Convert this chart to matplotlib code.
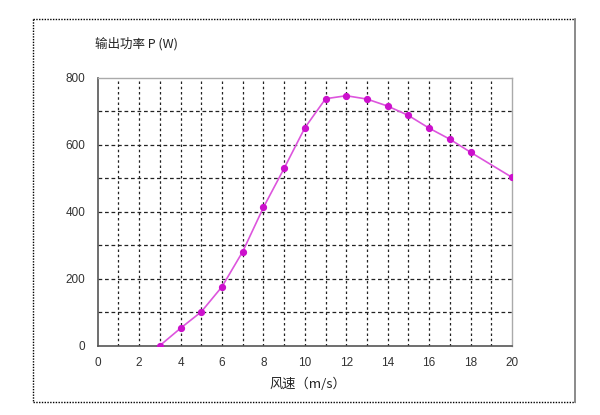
import matplotlib
matplotlib.use("Agg")
import matplotlib.pyplot as plt
from matplotlib.lines import Line2D

plt.rcParams['font.family'] = ['Noto Sans CJK SC', 'DejaVu Sans']

wind_speed = [3, 4, 5, 6, 7, 8, 9, 10, 11, 12, 13, 14, 15, 16, 17, 18, 20]
power = [0, 52, 101, 176, 281, 413, 530, 651, 738, 747, 737, 716, 688, 650, 617, 578, 503]
x_ticks = [0, 2, 4, 6, 8, 10, 12, 14, 16, 18, 20]
y_ticks = [0, 200, 400, 600, 800]
y_label = "输出功率 P (W)"
x_label = "风速（m/s）"

fig = plt.figure(figsize=(6, 4.15), dpi=100)
W, H = 600, 415

def fx(px):
    return px / W

def fy(py):
    return 1 - py / H

# outer frame
fig.add_artist(Line2D([fx(33), fx(33)], [fy(19), fy(402)], color='black', lw=1.0, ls=(0, (1, 1))))
fig.add_artist(Line2D([fx(33), fx(575)], [fy(19), fy(19)], color='black', lw=1.0, ls=(0, (1, 1))))
fig.add_artist(Line2D([fx(33), fx(575)], [fy(402), fy(402)], color='black', lw=1.0, ls=(0, (1, 1))))
fig.add_artist(Line2D([fx(575), fx(575)], [fy(19), fy(402)], color='#777777', lw=1.2))

ax = fig.add_axes([fx(97.7), fy(345.6), (512 - 97.7) / W, (345.6 - 78) / H])
ax.set_xlim(0, 20)
ax.set_ylim(0, 800)

for xv in range(1, 20):
    ax.axvline(xv, color='#222222', lw=0.9, ls=(0, (2, 2.2)), zorder=1)
for yv in range(100, 800, 100):
    ax.axhline(yv, color='#222222', lw=0.9, ls=(0, (3, 2.2)), zorder=1)

ax.plot(wind_speed, power, color='#dd55dd', lw=1.2, zorder=3)
ax.plot(wind_speed, power, ls='none', marker='o', ms=4.2, color='#cc11cc', zorder=4)

ax.set_xticks(x_ticks)
ax.set_yticks(y_ticks)
ax.tick_params(length=0, labelsize=8.5, colors='#333333', pad=8)
ax.tick_params(axis='y', pad=9)
for lab in ax.get_xticklabels() + ax.get_yticklabels():
    lab.set_family(['Liberation Sans', 'DejaVu Sans'])
for side in ['left', 'bottom']:
    ax.spines[side].set_color('#555555')
    ax.spines[side].set_linewidth(1.2)
for side in ['top', 'right']:
    ax.spines[side].set_color('#aaaaaa')
    ax.spines[side].set_linewidth(1.0)

fig.text(fx(95), fy(44), y_label, fontsize=9, va='center', ha='left', color='#222222')
fig.text(fx(308), fy(384), x_label, fontsize=9.5, va='center', ha='center', color='#222222')

fig.savefig('out.png', dpi=100)
